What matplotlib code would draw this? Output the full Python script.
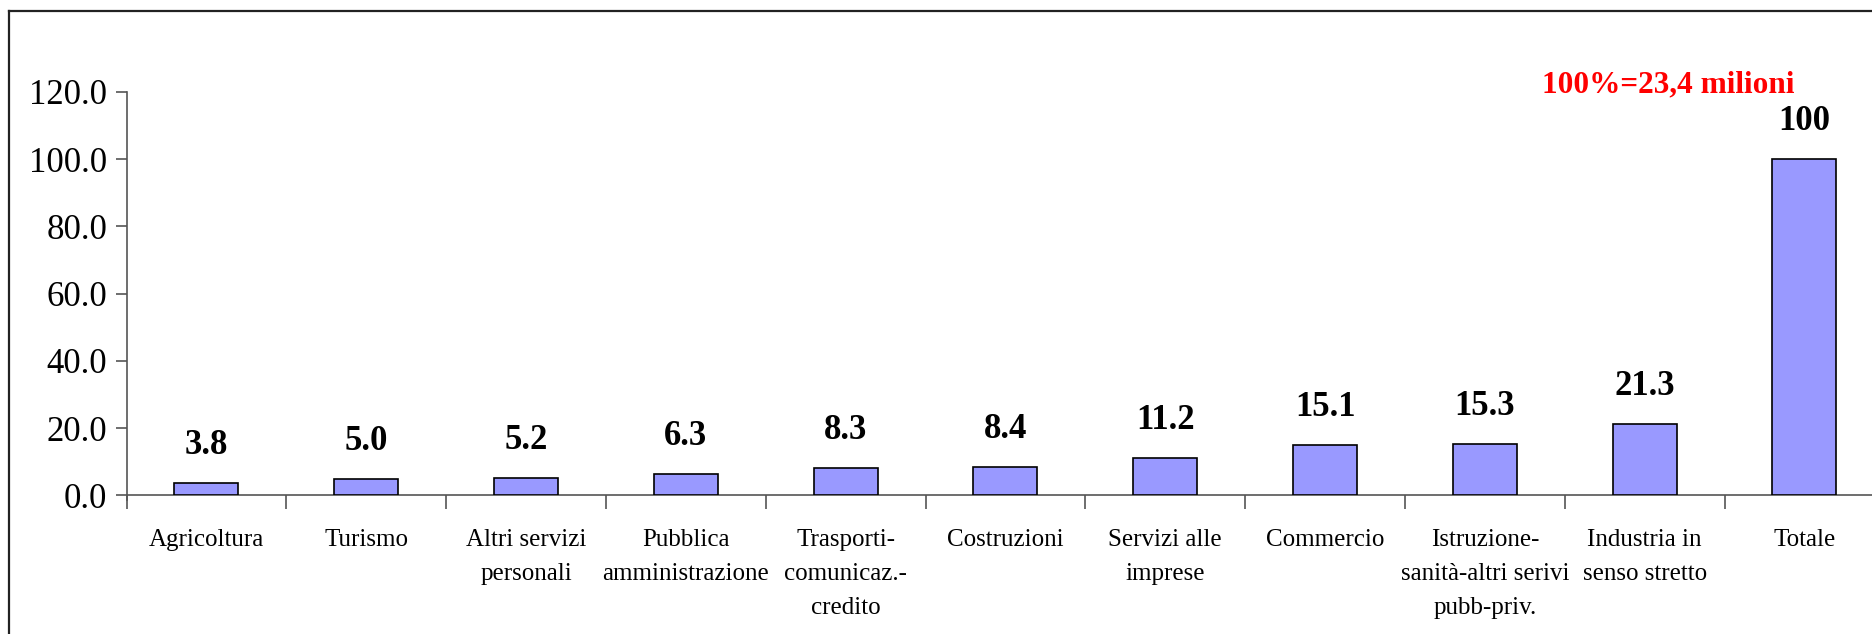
import numpy as np
import matplotlib.pyplot as plt
from matplotlib.lines import Line2D

# dati
categorie = ['Agricoltura', 'Turismo', 'Altri servizi\npersonali', 'Pubblica\namministrazione',
             'Trasporti-\ncomunicaz.-\ncredito', 'Costruzioni', 'Servizi alle\nimprese',
             'Commercio', 'Istruzione-\nsanità-altri serivi\npubb-priv.',
             'Industria in\nsenso stretto', 'Totale']
valori = [3.8, 5.0, 5.2, 6.3, 8.3, 8.4, 11.2, 15.1, 15.3, 21.3, 100]
etichette = ['3.8', '5.0', '5.2', '6.3', '8.3', '8.4', '11.2', '15.1', '15.3', '21.3', '100']
y_ticks = [0, 20, 40, 60, 80, 100, 120]
nota = '100%=23,4 milioni'

plt.rcParams['font.family'] = ['Liberation Serif', 'DejaVu Serif']

fig = plt.figure(figsize=(18.72, 6.34), dpi=100)
ax = fig.add_axes([0.0676, 0.2185, 0.939, 0.6365])

x = np.arange(len(valori))
ax.bar(x, valori, width=0.40, color='#9999FF', edgecolor='black', linewidth=1.2, zorder=3)

for xi, v, lab in zip(x, valori, etichette):
    ax.annotate(lab, (xi, v), xytext=(0, 27), textcoords='offset points',
                ha='center', va='center', fontsize=25, fontweight='bold')

ax.set_xlim(-0.5, len(valori) - 0.5)
ax.set_ylim(0, 120)
ax.set_yticks(y_ticks)
ax.set_yticklabels([f'{t:.1f}' for t in y_ticks], fontsize=25)

ax.set_xticks(x)
ax.set_xticklabels(categorie, fontsize=18, linespacing=1.72, va='top')
ax.set_xticks(np.arange(len(valori) + 1) - 0.5, minor=True)
ax.tick_params(axis='x', which='major', length=0, pad=24)
ax.tick_params(axis='x', which='minor', length=10, width=1.2, color='#555555', direction='out')
ax.tick_params(axis='y', length=8, width=1.2, color='#555555', pad=6)

for s in ['top', 'right']:
    ax.spines[s].set_visible(False)
for s in ['left', 'bottom']:
    ax.spines[s].set_color('#555555')
    ax.spines[s].set_linewidth(1.2)
ax.spines['left'].set_bounds(-1.2, 120)

ax.text(9.15, 122, nota, ha='center', va='center', fontsize=22.5, fontweight='bold', color='red')

# cornice
fig.add_artist(Line2D([0.005, 1.0], [0.983, 0.983], color='#222222', linewidth=1.6))
fig.add_artist(Line2D([0.005, 0.005], [0.0, 0.983], color='#222222', linewidth=1.6))

fig.savefig('out.png', dpi=100)
